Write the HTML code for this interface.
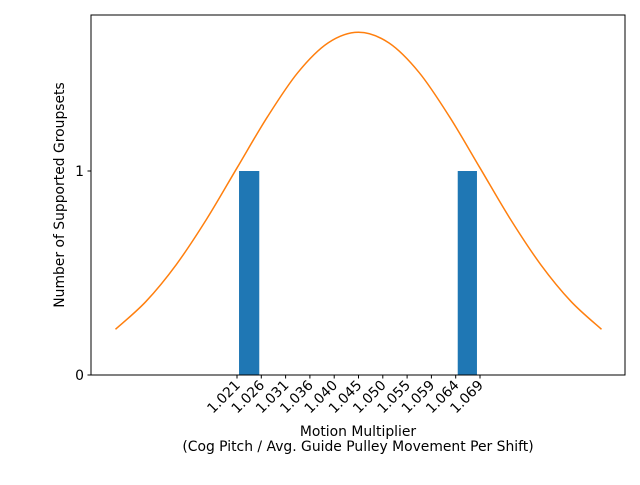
<!DOCTYPE html>
<html><head><meta charset="utf-8"><style>
body{margin:0;background:#fff}
svg{font-family:"DejaVu Sans","Liberation Sans",sans-serif}
</style></head><body>
<svg id="chart" width="640" height="480" viewBox="0 0 640 480">
<rect width="640" height="480" fill="#fff"/>
<g id="bars"></g><g id="curve"></g>
<rect x="91" y="15" width="534" height="360" fill="none" stroke="#000" stroke-width="1"/>
<g id="xticks"></g><g id="yticks"></g>
<text x="358" y="436" text-anchor="middle" font-size="13.9">Motion Multiplier</text>
<text x="358" y="451" text-anchor="middle" font-size="13.9">(Cog Pitch / Avg. Guide Pulley Movement Per Shift)</text>
<text transform="translate(64,195) rotate(-90)" text-anchor="middle" font-size="13.9">Number of Supported Groupsets</text>
</svg>
<script>
const tickValues=[1.021,1.0258,1.0306,1.0354,1.0402,1.045,1.0498,1.0546,1.0594,1.0642,1.069];
const tickLabels=["1.021","1.026","1.031","1.036","1.040","1.045","1.050","1.055","1.059","1.064","1.069"];
const barStarts=[1.0214,1.0646];
const barEnds=[1.0254,1.0684];
const barCounts=[1,1];
const curveX=[0.997,1.003,1.009,1.015,1.021,1.027,1.033,1.039,1.045,1.051,1.057,1.063,1.069,1.075,1.081,1.087,1.093];
const curveY=[0.224,0.360,0.541,0.764,1.015,1.265,1.482,1.628,1.68,1.628,1.482,1.265,1.015,0.764,0.541,0.360,0.224];
const yTicks=[0,1];
const NS="http://www.w3.org/2000/svg";
function xs(v){return 237+(v-1.021)*5062.5;}
function ys(v){return 375-v*204;}
const bars=document.getElementById('bars');
barCounts.forEach((c,i)=>{
const r=document.createElementNS(NS,'rect');
r.setAttribute('x',xs(barStarts[i]));r.setAttribute('width',xs(barEnds[i])-xs(barStarts[i]));
r.setAttribute('y',ys(c));r.setAttribute('height',ys(0)-ys(c));r.setAttribute('fill','#1f77b4');


bars.appendChild(r);});
const pts=curveX.map((x,i)=>[xs(x),ys(curveY[i])]);
let d=`M${pts[0][0]},${pts[0][1]}`;
for(let i=0;i<pts.length-1;i++){
const p0=pts[Math.max(0,i-1)],p1=pts[i],p2=pts[i+1],p3=pts[Math.min(pts.length-1,i+2)];
d+=` C${p1[0]+(p2[0]-p0[0])/6},${p1[1]+(p2[1]-p0[1])/6} ${p2[0]-(p3[0]-p1[0])/6},${p2[1]-(p3[1]-p1[1])/6} ${p2[0]},${p2[1]}`;}
const path=document.createElementNS(NS,'path');
path.setAttribute('d',d);path.setAttribute('fill','none');path.setAttribute('stroke','#ff7f0e');path.setAttribute('stroke-width','1.5');


document.getElementById('curve').appendChild(path);
const xt=document.getElementById('xticks');
tickValues.forEach((v,i)=>{
const x=xs(v);
const l=document.createElementNS(NS,'line');
l.setAttribute('x1',x);l.setAttribute('x2',x);l.setAttribute('y1',375);l.setAttribute('y2',378.5);l.setAttribute('stroke','#000');


xt.appendChild(l);
const t=document.createElementNS(NS,'text');
t.setAttribute('transform',`translate(${x+4},${386}) rotate(-45)`);
t.setAttribute('text-anchor','end');t.setAttribute('font-size','13.9');t.textContent=tickLabels[i];


xt.appendChild(t);});
const yt=document.getElementById('yticks');
yTicks.forEach(v=>{
const y=ys(v);
const l=document.createElementNS(NS,'line');
l.setAttribute('x1',87.5);l.setAttribute('x2',91);l.setAttribute('y1',y);l.setAttribute('y2',y);l.setAttribute('stroke','#000');


yt.appendChild(l);
const t=document.createElementNS(NS,'text');
t.setAttribute('x',84);t.setAttribute('y',y+5);t.setAttribute('text-anchor','end');t.setAttribute('font-size','13.9');t.textContent=v;


yt.appendChild(t);});
</script>
</body></html>
